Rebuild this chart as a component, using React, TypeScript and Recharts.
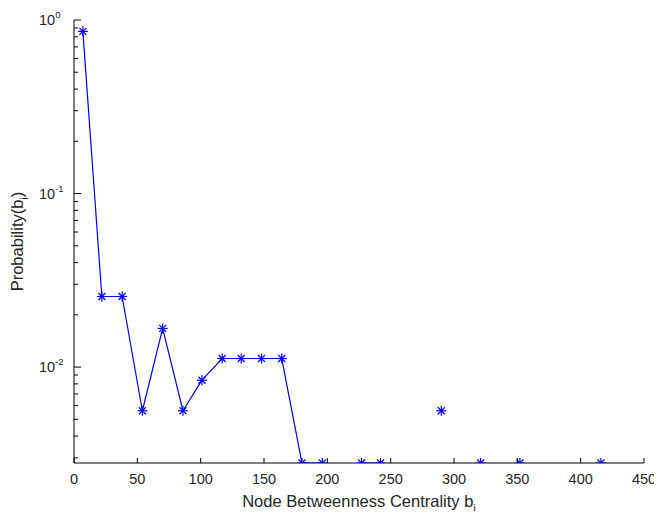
import { Label, Line, LineChart, XAxis, YAxis } from 'recharts'

// betweenness bins (x) and their probability; null = empty bin (breaks the line)
const betweenness = [7, 22, 38, 54, 70, 86, 101, 117, 132, 148, 164, 180, 196, 211, 227, 242, 266, 290, 306, 321, 337, 352, 384, 416]
const probability = [
  0.86, 0.0255, 0.0255, 0.0056, 0.0167, 0.0056, 0.0084, 0.0112, 0.0112, 0.0112, 0.0112,
  0.0028, 0.0028, null, 0.0028, 0.0028, null, 0.0056, null, 0.0028, null, 0.0028, null, 0.0028,
]
const xTicks = [0, 50, 100, 150, 200, 250, 300, 350, 400, 450]
const decades = [0.001, 0.01, 0.1]
const yMin = 0.0028
const yMax = 1

const yTicks: number[] = []
decades.forEach((d) => {
  for (let m = 1; m <= 9; m++) {
    const v = +(d * m).toPrecision(3)
    if (v >= yMin && v <= yMax) yTicks.push(v)
  }
})
yTicks.push(yMax)

const data = betweenness.map((b, i) => ({ b, p: probability[i] }))

const FONT = '"Liberation Sans", Arial, sans-serif'
const BLUE = '#0000ff'
const TEXT = '#262626'

function Star(props: any) {
  const { cx, cy, index } = props
  if (cx == null || cy == null || props.payload?.p == null) return <g key={index} />
  const r = 5
  const d = 3.5
  return (
    <g key={index} stroke={BLUE} strokeWidth={1.2}>
      <line x1={cx - r} x2={cx + r} y1={cy} y2={cy} />
      <line x1={cx} x2={cx} y1={cy - r} y2={cy + r} />
      <line x1={cx - d} x2={cx + d} y1={cy - d} y2={cy + d} />
      <line x1={cx - d} x2={cx + d} y1={cy + d} y2={cy - d} />
    </g>
  )
}

function YTick(props: any) {
  const { x, y, payload } = props
  const v = payload.value as number
  const lg = Math.log10(v)
  const exp = Math.round(lg)
  const major = Math.abs(lg - exp) < 1e-6
  return (
    <g>
      <line x1={x} x2={x + (major ? 7 : 4)} y1={y} y2={y} stroke="#000" />
      {major && (
        <text x={x - 35} y={y + 5} fontSize={14.5} fontFamily={FONT} fill={TEXT}>
          10
          <tspan dy={-7} fontSize={9.5}>{exp}</tspan>
        </text>
      )}
    </g>
  )
}

function XTick(props: any) {
  const { x, y, payload } = props
  return (
    <g>
      <line x1={x} x2={x} y1={y} y2={y - 5} stroke="#000" />
      <text x={x} y={y + 21} textAnchor="middle" fontSize={14.5} fontFamily={FONT} fill={TEXT}>
        {payload.value}
      </text>
    </g>
  )
}

function XTitle(props: any) {
  const { viewBox } = props
  const cx = viewBox.x + viewBox.width / 2
  return (
    <text x={cx} y={507} textAnchor="middle" fontSize={16.5} fontFamily={FONT} fill={TEXT}>
      Node Betweenness Centrality b
      <tspan dy={5} fontSize={11}>i</tspan>
    </text>
  )
}

function YTitle(props: any) {
  const { viewBox } = props
  const cy = viewBox.y + viewBox.height / 2
  return (
    <text
      x={23}
      y={cy}
      transform={`rotate(-90 23 ${cy})`}
      textAnchor="middle"
      fontSize={16.5}
      fontFamily={FONT}
      fill={TEXT}
    >
      Probability(b
      <tspan dy={5} fontSize={11}>i</tspan>
      <tspan dy={-5}>)</tspan>
    </text>
  )
}

export default function App() {
  return (
    <div style={{ margin: -8, background: '#fff', width: 662, height: 519 }}>
      <LineChart width={662} height={519} data={data} margin={{ top: 20, right: 18, bottom: 0, left: 0 }}>
        <XAxis
          dataKey="b"
          type="number"
          domain={[0, 450]}
          ticks={xTicks}
          interval={0}
          height={56}
          tickSize={0}
          tickMargin={0}
          tickLine={false}
          axisLine={{ stroke: '#000' }}
          tick={<XTick />}
        >
          <Label content={<XTitle />} />
        </XAxis>
        <YAxis
          scale="log"
          domain={[yMin, yMax]}
          ticks={yTicks}
          interval={0}
          width={74}
          tickSize={0}
          tickMargin={0}
          tickLine={false}
          axisLine={{ stroke: '#000' }}
          tick={<YTick />}
          allowDataOverflow
        >
          <Label content={<YTitle />} />
        </YAxis>
        <Line
          dataKey="p"
          stroke={BLUE}
          strokeWidth={1.2}
          dot={<Star />}
          connectNulls={false}
          isAnimationActive={false}
        />
      </LineChart>
    </div>
  )
}
